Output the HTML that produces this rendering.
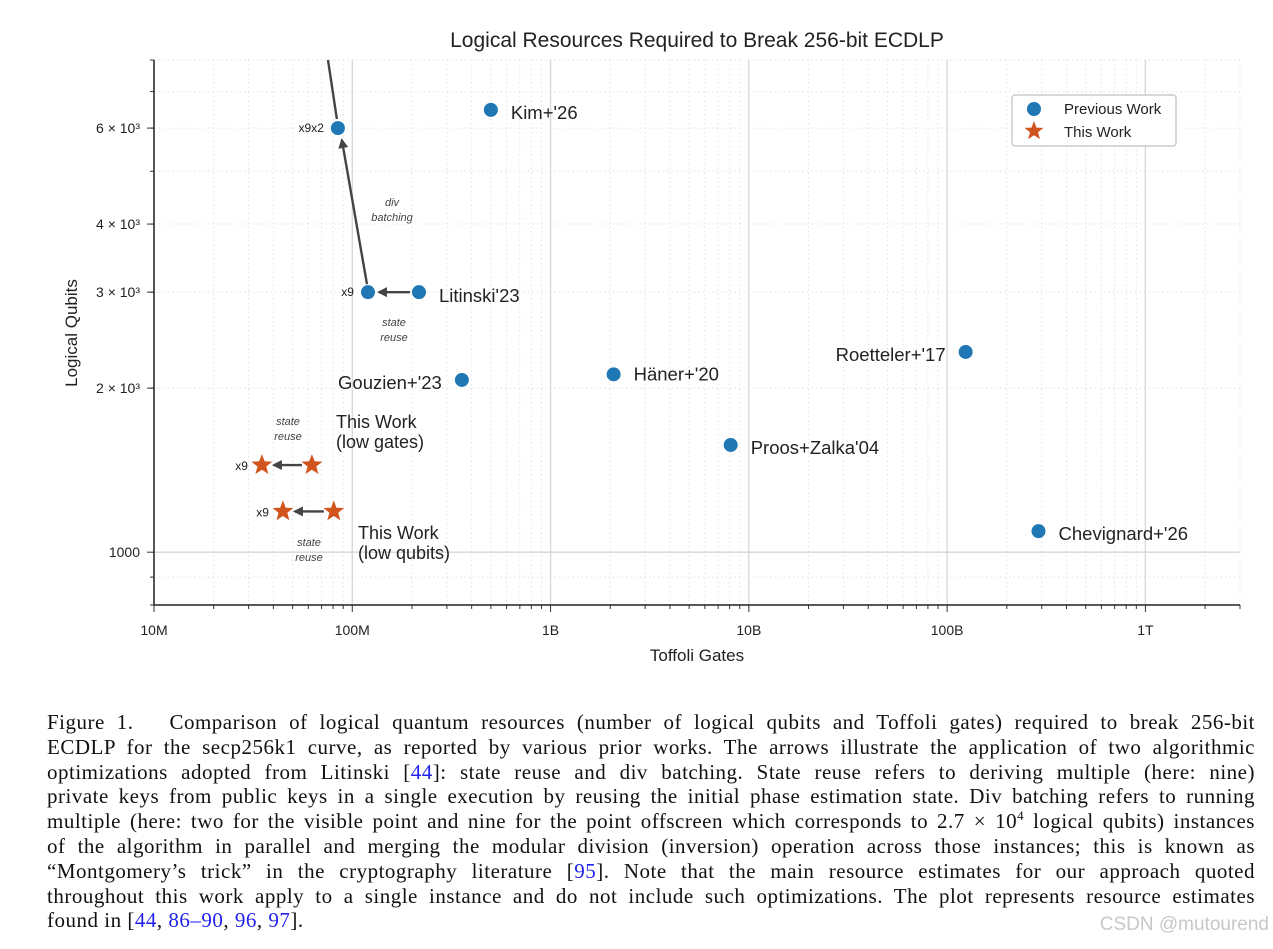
<!DOCTYPE html>
<html><head><meta charset="utf-8">
<style>
body{margin:0;background:#fff;width:1273px;height:949px;overflow:hidden;position:relative;font-family:"Liberation Sans",sans-serif}
svg text{font-family:"Liberation Sans",sans-serif}
.cap{position:absolute;left:47px;width:1208px;font-family:"Liberation Serif",serif;font-size:21px;letter-spacing:0.5px;color:#111}
.cap div{height:24.8px;line-height:24.8px;text-align:justify;text-align-last:justify;white-space:nowrap}
.cap div.last{text-align-last:left}
.cap a{color:#2222ee;text-decoration:none}
.cap sup{font-size:13px;vertical-align:0;position:relative;top:-8px}
.wm{position:absolute;right:4px;top:914px;color:#c8c8c8;font-size:19px}
</style></head><body>
<svg id="chart" width="1273" height="690" style="position:absolute;left:0;top:0"></svg>
<div class="cap" style="top:710px">
<div>Figure 1.&nbsp;&nbsp; Comparison of logical quantum resources (number of logical qubits and Toffoli gates) required to break 256-bit</div>
<div>ECDLP for the secp256k1 curve, as reported by various prior works. The arrows illustrate the application of two algorithmic</div>
<div>optimizations adopted from Litinski [<a>44</a>]: state reuse and div batching. State reuse refers to deriving multiple (here: nine)</div>
<div>private keys from public keys in a single execution by reusing the initial phase estimation state. Div batching refers to running</div>
<div>multiple (here: two for the visible point and nine for the point offscreen which corresponds to 2.7 × 10<sup>4</sup> logical qubits) instances</div>
<div>of the algorithm in parallel and merging the modular division (inversion) operation across those instances; this is known as</div>
<div>“Montgomery’s trick” in the cryptography literature [<a>95</a>]. Note that the main resource estimates for our approach quoted</div>
<div>throughout this work apply to a single instance and do not include such optimizations. The plot represents resource estimates</div>
<div class="last">found in [<a>44</a>, <a>86–90</a>, <a>96</a>, <a>97</a>].</div>
</div>
<div class="wm">CSDN @mutourend</div>
<script>
const names=["Kim+'26","Litinski'23","Gouzien+'23","Häner+'20","Proos+Zalka'04","Roetteler+'17","Chevignard+'26"];
const gates=[5e8,2.17e8,3.57e8,2.08e9,8.1e9,1.24e11,2.89e11];
const qubits=[6480,3000,2070,2120,1573,2330,1093];
const optNames=["x9x2","x9"];
const optGates=[8.46e7,1.2e8];
const optQubits=[6000,3000];
const starGates=[3.5e7,6.26e7,4.47e7,8.07e7];
const starQubits=[1445,1445,1188,1188];
const xTicks=[1e7,1e8,1e9,1e10,1e11,1e12];
const xTickLabels=["10M","100M","1B","10B","100B","1T"];
const yTicks=[1000,2000,3000,4000,6000];
const yTickLabels=["1000","2 × 10³","3 × 10³","4 × 10³","6 × 10³"];
const X0=154,X1=1240,Y0=605,Y1=60,XMIN=1e7,XMAX=3e12,YMIN=800,YMAX=8000;
const sx=v=>X0+(Math.log10(v)-Math.log10(XMIN))/(Math.log10(XMAX)-Math.log10(XMIN))*(X1-X0);
const sy=v=>Y0-(Math.log10(v)-Math.log10(YMIN))/(Math.log10(YMAX)-Math.log10(YMIN))*(Y0-Y1);
const svg=document.getElementById('chart');const NS="http://www.w3.org/2000/svg";
function mk(t,a,p){const e=document.createElementNS(NS,t);for(const k in a)e.setAttribute(k,a[k]);(p||svg).appendChild(e);return e;}
function tx(x,y,s,o){const e=mk('text',Object.assign({x:x,y:y,'font-size':16,fill:'#222'},o||{}));e.textContent=s;return e;}
const blue='#1f77b4',orange='#d1541c',dark='#444';
for(let d=7;d<=12;d++)for(let m=2;m<=9;m++){const v=m*Math.pow(10,d);if(v>XMAX)break;const x=sx(v);
 const g=mk('line',{x1:x,x2:x,y1:Y1,y2:Y0,stroke:'#e2e2e2','stroke-dasharray':'1.5,3'});
 mk('line',{x1:x,x2:x,y1:Y0,y2:Y0+4,stroke:'#333'});}
for(const v of [800,900,2000,3000,4000,5000,6000,7000,8000]){const y=sy(v);
 const g=mk('line',{x1:X0,x2:X1,y1:y,y2:y,stroke:'#e2e2e2','stroke-dasharray':'1.5,3'});
 mk('line',{x1:X0-4,x2:X0,y1:y,y2:y,stroke:'#333'});}
xTicks.forEach((v,i)=>{const x=sx(v);
 const g=mk('line',{x1:x,x2:x,y1:Y1,y2:Y0,stroke:'#d6d6d6','stroke-width':1.3});
 mk('line',{x1:x,x2:x,y1:Y0,y2:Y0+7,stroke:'#333'});
 const t=tx(x,Y0+30,xTickLabels[i],{'text-anchor':'middle','font-size':14});});
{const y=sy(1000);const g=mk('line',{x1:X0,x2:X1,y1:y,y2:y,stroke:'#d6d6d6','stroke-width':1.3});}
yTicks.forEach((v,i)=>{const y=sy(v);mk('line',{x1:X0-7,x2:X0,y1:y,y2:y,stroke:'#333'});
 const t=tx(X0-14,y+5,yTickLabels[i],{'text-anchor':'end','font-size':14});});
const ax=mk('path',{d:`M${X0},${Y1}V${Y0}H${X1}`,stroke:'#222','stroke-width':1.5,fill:'none'});
let t=tx(697,47,'Logical Resources Required to Break 256-bit ECDLP',{'text-anchor':'middle','font-size':21});
t=tx(697,661,'Toffoli Gates',{'text-anchor':'middle','font-size':17});
t=tx(77,333,'Logical Qubits',{'text-anchor':'middle','font-size':17,transform:'rotate(-90 77 333)'});
mk('defs',{}).innerHTML='<marker id="ah" markerWidth="10" markerHeight="10" refX="8" refY="5" orient="auto" markerUnits="userSpaceOnUse" viewBox="0 0 10 10"><path d="M0,0L10,5L0,10z" fill="#444"/></marker>';
function arrow(x1,y1,x2,y2,name){const a=mk('line',{x1,y1,x2,y2,stroke:dark,'stroke-width':2.4,'marker-end':'url(#ah)'});}
arrow(sx(gates[1])-9,sy(qubits[1]),sx(optGates[1])+11,sy(optQubits[1]),'state-reuse-arrow');
arrow(sx(optGates[1])-1,sy(optQubits[1])-8,sx(optGates[0])+4,sy(optQubits[0])+12,'div-batching-arrow');
{const l=mk('line',{x1:328,y1:Y1,x2:sx(optGates[0])-1,y2:sy(optQubits[0])-9,stroke:dark,'stroke-width':2.4});}
arrow(sx(starGates[1])-10,sy(starQubits[1]),sx(starGates[0])+12,sy(starQubits[0]),'star-arrow-gates');
arrow(sx(starGates[3])-10,sy(starQubits[3]),sx(starGates[2])+12,sy(starQubits[2]),'star-arrow-qubits');
const offs=[[20,9,'start'],[20,10,'start'],[-20,9,'end'],[20,6,'start'],[20,9,'start'],[-20,9,'end'],[20,9,'start']];
names.forEach((n,i)=>{const x=sx(gates[i]),y=sy(qubits[i]);const c=mk('circle',{cx:x,cy:y,r:7,fill:blue});
 const l=tx(x+offs[i][0],y+offs[i][1],n,{'text-anchor':offs[i][2],'font-size':18.5});});
optNames.forEach((n,i)=>{const x=sx(optGates[i]),y=sy(optQubits[i]);const c=mk('circle',{cx:x,cy:y,r:7,fill:blue});
 const l=tx(x-14,y+4,n,{'text-anchor':'end','font-size':12});});
function star(cx,cy,r){let p='';for(let k=0;k<10;k++){const a=-Math.PI/2+k*Math.PI/5,rr=k%2?r*0.42:r;p+=(k?'L':'M')+(cx+rr*Math.cos(a)).toFixed(1)+','+(cy+rr*Math.sin(a)).toFixed(1);}return mk('path',{d:p+'Z',fill:orange});}
starGates.forEach((g,i)=>{const s=star(sx(g),sy(starQubits[i]),11);
 if(i%2==0){const l=tx(sx(g)-14,sy(starQubits[i])+5,'x9',{'text-anchor':'end','font-size':12});}});
function small(x,y,lines){lines.forEach((s,k)=>{const e=tx(x,y+k*15,s,{'font-size':11,'font-style':'italic',fill:'#444','text-anchor':'middle'});});}
small(392,206,['div','batching']);small(394,326,['state','reuse']);small(288,425,['state','reuse']);small(309,546,['state','reuse']);
[[336,428,'This Work'],[336,448,'(low gates)'],[358,539,'This Work'],[358,559,'(low qubits)']].forEach(a=>{const e=tx(a[0],a[1],a[2],{'font-size':18});});
const lg=mk('g',{});
mk('rect',{x:1012,y:95,width:164,height:51,rx:3,fill:'#fff',stroke:'#ccc','stroke-width':1.5},lg);
let c=mk('circle',{cx:1034,cy:109,r:7,fill:blue},lg);
let e=tx(1064,114,'Previous Work',{'font-size':15});lg.appendChild(e);
let s=star(1034,131,10);lg.appendChild(s);
e=tx(1064,137,'This Work',{'font-size':15});lg.appendChild(e);
</script>
</body></html>
